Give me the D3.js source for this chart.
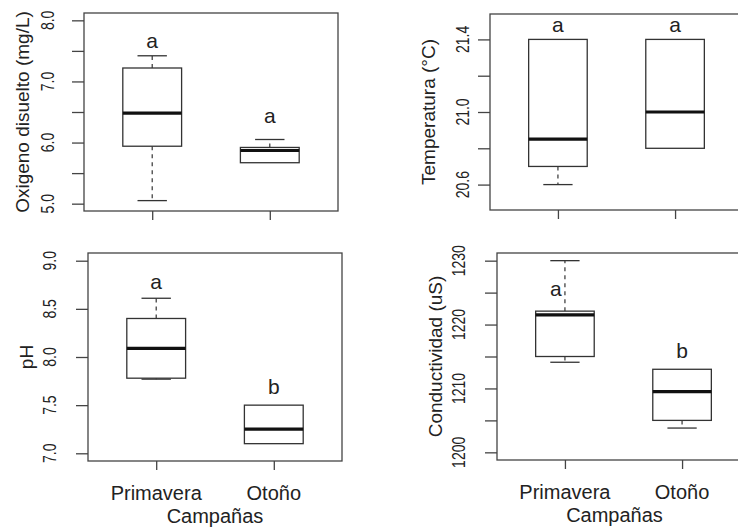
<!DOCTYPE html>
<html>
<head>
<meta charset="utf-8">
<script src="https://cdn.jsdelivr.net/npm/d3@7"></script>
<style>
  body { margin: 0; background: #fff; }
  text { font-family: "Liberation Sans", Arial, sans-serif; fill: #222; }
</style>
</head>
<body>
<svg id="chart" width="738" height="527"></svg>
<script>
var categories = ["Primavera", "Otoño"];

// each box: [lower whisker, Q1, median, Q3, upper whisker]
var oxigeno = [[5.05, 5.94, 6.48, 7.22, 7.42], [5.67, 5.67, 5.87, 5.92, 6.05]];
var temperatura = [[20.6, 20.70, 20.85, 21.4, 21.4], [20.8, 20.8, 21.0, 21.4, 21.4]];
var ph = [[7.77, 7.78, 8.09, 8.40, 8.61], [7.10, 7.10, 7.25, 7.50, 7.50]];
var conductividad = [[1214.1, 1215.0, 1221.5, 1222.1, 1230.0], [1203.8, 1205.0, 1209.5, 1213.0, 1213.0]];

// significance letters and where they sit (y in data units)
var oxigenoLetters = ["a", "a"], oxigenoLetterY = [7.55, 6.32];
var temperaturaLetters = ["a", "a"], temperaturaLetterY = [21.44, 21.44];
var phLetters = ["a", "b"], phLetterY = [8.71, 7.62];
var conductividadLetters = ["a", "b"], conductividadLetterY = [1224.5, 1214.8];

// y limits and ticks
var oxigenoLim = [5, 8], oxigenoTicks = [5, 5.5, 6, 6.5, 7, 7.5, 8], oxigenoTickLabels = [5, 6, 7, 8];
var temperaturaLim = [20.5, 21.5], temperaturaTicks = [20.6, 20.8, 21.0, 21.2, 21.4], temperaturaTickLabels = [20.6, 21.0, 21.4];
var phLim = [7, 9], phTicks = [7, 7.5, 8, 8.5, 9], phTickLabels = [7, 7.5, 8, 8.5, 9];
var conductividadLim = [1200, 1230], conductividadTicks = [1200, 1205, 1210, 1215, 1220, 1225, 1230], conductividadTickLabels = [1200, 1210, 1220, 1230];

var panels = [
    {title: "Oxigeno disuelto (mg/L)", stats: oxigeno, letters: oxigenoLetters, letterY: oxigenoLetterY,
     lim: oxigenoLim, ticks: oxigenoTicks, labels: oxigenoTickLabels, fmt: ".1f",
     x0: 84, x1: 338, y0: 13, y1: 211, labelGap: 30, xLabels: false},
    {title: "Temperatura (°C)", stats: temperatura, letters: temperaturaLetters, letterY: temperaturaLetterY,
     lim: temperaturaLim, ticks: temperaturaTicks, labels: temperaturaTickLabels, fmt: ".1f",
     x0: 490, x1: 743, y0: 14, y1: 210, labelGap: 21, xLabels: false},
    {title: "pH", stats: ph, letters: phLetters, letterY: phLetterY,
     lim: phLim, ticks: phTicks, labels: phTickLabels, fmt: ".1f",
     x0: 88, x1: 342, y0: 253, y1: 461, labelGap: 32, xLabels: true, titleDx: 0},
    {title: "Conductividad (uS)", stats: conductividad, letters: conductividadLetters, letterY: conductividadLetterY,
     lim: conductividadLim, ticks: conductividadTicks, labels: conductividadTickLabels, fmt: "d",
     x0: 497, x1: 750, y0: 253, y1: 460, labelGap: 32, xLabels: true, titleDx: -9, letterDx: [-9, 0]}
];

var svg = d3.select("#chart");
var ink = "#333";

panels.forEach(function (p) {
    var g = svg.append("g");

    // R style: limits padded by 4%
    var pad = (p.lim[1] - p.lim[0]) * 0.04;
    var y = d3.scaleLinear().domain([p.lim[0] - pad, p.lim[1] + pad]).range([p.y1, p.y0]);
    var x = d3.scaleLinear().domain([0.42, 2.58]).range([p.x0, p.x1]);
    var half = 0.25;

    // frame
    g.append("rect")
        .attr("x", p.x0).attr("y", p.y0)
        .attr("width", p.x1 - p.x0).attr("height", p.y1 - p.y0)
        .attr("fill", "none").attr("stroke", "#444").attr("stroke-width", 1.3);

    // y axis ticks
    var yAxis = d3.axisLeft(y).tickValues(p.ticks).tickSize(12).tickFormat("");
    var ya = g.append("g").attr("transform", "translate(" + p.x0 + ",0)").call(yAxis);
    ya.select(".domain").remove();
    ya.selectAll("line").attr("stroke", "#444").attr("stroke-width", 1.3);

    // y tick labels, rotated like R (las = 0)
    var f = d3.format(p.fmt);
    g.selectAll(".ylab").data(p.labels).enter().append("text")
        .attr("transform", function (d) {
            return "translate(" + (p.x0 - p.labelGap) + "," + y(d) + ") rotate(-90) scale(1,1.25)";
        })
        .attr("text-anchor", "middle")
        .style("font-size", "14px")
        .text(function (d) { return f(d); });

    // axis title
    g.append("text")
        .attr("transform", "translate(" + (p.x0 - 55) + "," + ((p.y0 + p.y1) / 2) + ") rotate(-90)")
        .attr("text-anchor", "middle")
        .style("font-size", "19px")
        .text(p.title);

    // x ticks
    var xAxis = d3.axisBottom(x).tickValues([1, 2]).tickSize(9).tickFormat("");
    var xa = g.append("g").attr("transform", "translate(0," + p.y1 + ")").call(xAxis);
    xa.select(".domain").remove();
    xa.selectAll("line").attr("stroke", "#444").attr("stroke-width", 1.3);

    if (p.xLabels) {
        g.selectAll(".xlab").data(categories).enter().append("text")
            .attr("x", function (d, i) { return x(i + 1); })
            .attr("y", p.y1 + 39)
            .attr("text-anchor", "middle")
            .style("font-size", "20px")
            .text(function (d) { return d; });
        g.append("text")
            .attr("x", (p.x0 + p.x1) / 2 + (p.titleDx || 0))
            .attr("y", p.y1 + 62)
            .attr("text-anchor", "middle")
            .style("font-size", "20px")
            .text("Campañas");
    }

    // boxes
    var boxes = g.selectAll(".box").data(p.stats).enter().append("g");

    // dashed whiskers
    boxes.append("line")
        .attr("x1", function (d, i) { return x(i + 1); })
        .attr("x2", function (d, i) { return x(i + 1); })
        .attr("y1", function (d) { return y(d[3]); })
        .attr("y2", function (d) { return y(d[4]); })
        .attr("stroke", ink).attr("stroke-width", 1.2).attr("stroke-dasharray", "4,4")
        .style("display", function (d) { return d[4] > d[3] ? null : "none"; });
    boxes.append("line")
        .attr("x1", function (d, i) { return x(i + 1); })
        .attr("x2", function (d, i) { return x(i + 1); })
        .attr("y1", function (d) { return y(d[1]); })
        .attr("y2", function (d) { return y(d[0]); })
        .attr("stroke", ink).attr("stroke-width", 1.2).attr("stroke-dasharray", "4,4")
        .style("display", function (d) { return d[0] < d[1] ? null : "none"; });

    // staples
    [0, 4].forEach(function (k) {
        boxes.append("line")
            .attr("x1", function (d, i) { return x(i + 1 - half / 2); })
            .attr("x2", function (d, i) { return x(i + 1 + half / 2); })
            .attr("y1", function (d) { return y(d[k]); })
            .attr("y2", function (d) { return y(d[k]); })
            .attr("stroke", ink).attr("stroke-width", 1.3)
            .style("display", function (d) { return d[k] !== d[k === 0 ? 1 : 3] ? null : "none"; });
    });

    boxes.append("rect")
        .attr("x", function (d, i) { return x(i + 1 - half); })
        .attr("width", x(1 + half) - x(1 - half))
        .attr("y", function (d) { return y(d[3]); })
        .attr("height", function (d) { return y(d[1]) - y(d[3]); })
        .attr("fill", "#fff").attr("stroke", ink).attr("stroke-width", 1.3);

    boxes.append("line")
        .attr("x1", function (d, i) { return x(i + 1 - half); })
        .attr("x2", function (d, i) { return x(i + 1 + half); })
        .attr("y1", function (d) { return y(d[2]); })
        .attr("y2", function (d) { return y(d[2]); })
        .attr("stroke", "#111").attr("stroke-width", 3.2);

    // letters
    g.selectAll(".letter").data(p.letters).enter().append("text")
        .attr("x", function (d, i) { return x(i + 1) + (p.letterDx ? p.letterDx[i] : 0); })
        .attr("y", function (d, i) { return y(p.letterY[i]); })
        .attr("text-anchor", "middle")
        .style("font-size", "21px")
        .text(function (d) { return d; });
});
</script>
</body>
</html>
